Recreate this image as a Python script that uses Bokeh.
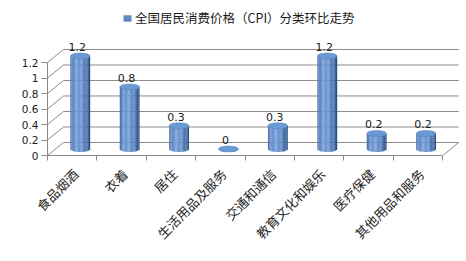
import numpy as np
from math import pi
from bokeh.plotting import figure
from bokeh.models import Range1d, FixedTicker, Legend, LegendItem
from bokeh.embed import file_html
from bokeh.resources import INLINE
from bokeh.core.properties import value

# ---- data ----
categories = ["食品烟酒", "衣着", "居住", "生活用品及服务", "交通和通信",
              "教育文化和娱乐", "医疗保健", "其他用品和服务"]
values = [1.2, 0.8, 0.3, 0, 0.3, 1.2, 0.2, 0.2]
y_ticks = [0, 0.2, 0.4, 0.6, 0.8, 1, 1.2]
y_tick_labels = ["0", "0.2", "0.4", "0.6", "0.8", "1", "1.2"]
series_name = "全国居民消费价格（CPI）分类环比走势"

# ---- 3D geometry (data units) ----
n = len(categories)
DX, DY = 0.324, 0.168      # depth of the box
R = 0.2                     # cylinder radius (x units)
H = 0.039                   # ellipse semi-height (y units)
NSTRIP = 16
GRID = "#8a8a8a"
LABEL_SHIFT = 0.07          # nudges the rotated category labels to the right

p = figure(width=466, height=261, x_range=Range1d(0, 8.4), y_range=Range1d(0, 2.0),
           output_backend="svg", toolbar_location=None,
           min_border_left=47, min_border_right=4, min_border_top=0, min_border_bottom=106)
p.outline_line_color = None
p.xgrid.visible = False
p.ygrid.visible = False
p.background_fill_color = "white"

# gridlines on back wall and left wall
yt = np.array(y_ticks, dtype=float)
p.segment(x0=[DX] * len(yt), y0=yt + DY, x1=[n + DX] * len(yt), y1=yt + DY,
          line_color=GRID, line_width=1)
p.segment(x0=[0] * len(yt), y0=yt, x1=[DX] * len(yt), y1=yt + DY,
          line_color=GRID, line_width=1)
p.segment(x0=[n], y0=[0], x1=[n + DX], y1=[DY], line_color=GRID, line_width=1)

# cylinders (vertical strips give the shading)
dark = np.array([36, 74, 128])
light = np.array([112, 154, 214])
xs_l, xs_r, bots, tops, cols = [], [], [], [], []
for i, v in enumerate(values):
    cx = i + 0.5 + DX / 2
    yb = DY / 2
    for k in range(NSTRIP):
        u0 = -1 + 2 * k / NSTRIP
        u1 = -1 + 2 * (k + 1) / NSTRIP
        uc = (u0 + u1) / 2
        f = 1 - (abs(uc + 0.2) / 1.2) ** 1.8
        f = max(0.0, min(1.0, f))
        c = dark + (light - dark) * f
        cols.append("#%02x%02x%02x" % tuple(int(a) for a in c))
        xs_l.append(cx + u0 * R)
        xs_r.append(cx + u1 * R + 0.002)
        bots.append(yb - H * np.sqrt(max(0.0, 1 - uc * uc)))
        tops.append(yb + v)
strips = p.quad(left=xs_l, right=xs_r, bottom=bots, top=tops, fill_color=cols, line_color=None)

cxs = [i + 0.5 + DX / 2 for i in range(n)]
tops_c = [DY / 2 + v for v in values]
p.ellipse(x=cxs, y=tops_c, width=2 * R, height=2 * H, fill_color="#6a99d5",
          line_color="#5583c0", line_width=0.5)

# data labels
p.text(x=cxs, y=[t + H for t in tops_c], text=[("%g" % v) for v in values],
       text_align="center", text_baseline="bottom", x_offset=-3, y_offset=-2,
       text_font=value("DejaVu Sans"), text_font_size="11px", text_color="#1a1a1a")

# legend (series name) – uses a mid-tone strip of the first cylinder as its swatch
legend = Legend(items=[LegendItem(label=series_name, renderers=[strips], index=10)],
                location=(75, 128), orientation="horizontal",
                glyph_width=10, glyph_height=8, label_standoff=3, padding=0, margin=0,
                border_line_color=None, background_fill_alpha=0,
                label_text_font="Noto Sans CJK SC", label_text_font_size="12.5px",
                label_text_color="#1a1a1a")
p.add_layout(legend)

# y axis
ya = p.yaxis[0]
ya.ticker = FixedTicker(ticks=y_ticks)
ya.major_label_overrides = {float(t): l for t, l in zip(y_ticks, y_tick_labels)}
ya.bounds = (0, 1.2)
ya.axis_line_color = GRID
ya.major_tick_line_color = GRID
ya.major_tick_in = 0
ya.major_tick_out = 6
ya.minor_tick_line_color = None
ya.major_label_standoff = 3
ya.major_label_text_font = "DejaVu Sans"
ya.major_label_text_font_size = "10.5px"
ya.major_label_text_color = "#1a1a1a"

# x axis
xa = p.xaxis[0]
centers = [i + 0.5 + LABEL_SHIFT for i in range(n)]
xa.ticker = FixedTicker(ticks=centers, minor_ticks=list(range(n + 1)))
xa.major_label_overrides = {float(c): lab for c, lab in zip(centers, categories)}
xa.bounds = (0, n)
xa.axis_line_color = GRID
xa.major_tick_line_color = None
xa.minor_tick_line_color = GRID
xa.minor_tick_in = 0
xa.minor_tick_out = 5
xa.major_label_orientation = pi / 4
xa.major_label_standoff = 10
xa.major_label_text_font = "Noto Sans CJK SC"
xa.major_label_text_font_size = "13px"
xa.major_label_text_color = "#262626"

open("out.html", "w").write(file_html(p, INLINE))
